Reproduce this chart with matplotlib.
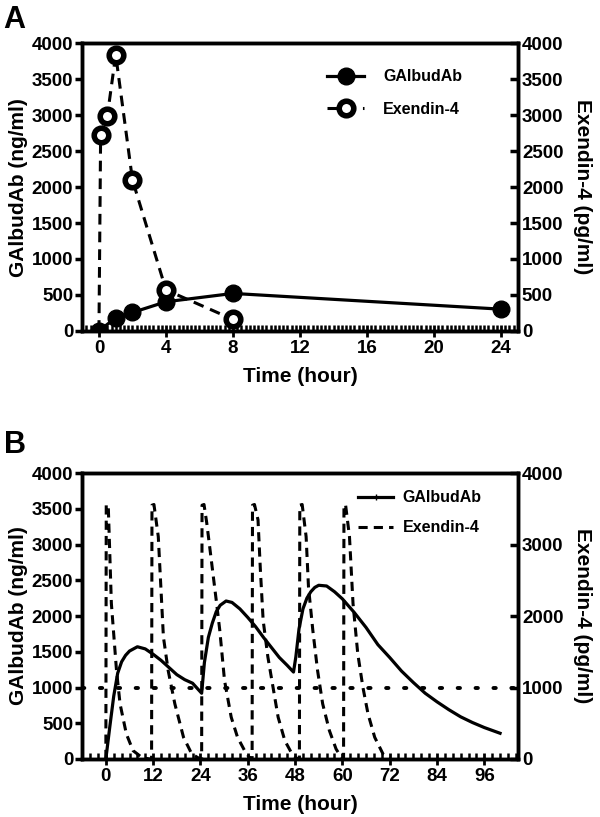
import matplotlib
matplotlib.use("Agg")
import matplotlib.pyplot as plt
from matplotlib.ticker import MultipleLocator
from matplotlib.lines import Line2D

plt.rcParams["font.family"] = ["Liberation Sans", "DejaVu Sans"]
plt.rcParams["font.weight"] = "bold"
plt.rcParams["axes.labelweight"] = "bold"

# Panel A: measured PK
a_time_ab = [0, 1, 2, 4, 8, 24]
a_ab = [0, 181, 256, 405, 521, 302]
a_time_ex = [0, 0.1, 0.5, 1, 2, 4, 8]
a_ex = [0, 2730, 2990, 3840, 2100, 570, 160]
a_xticks = [0, 4, 8, 12, 16, 20, 24]

# Panel B: simulated repeat dosing
b_time_ab = [0, 1, 2, 3, 4, 5, 6, 8, 10, 12, 14, 16, 18, 20, 22, 24.3,
             25, 26, 27, 28, 29, 30.5, 32, 34, 36, 38, 40, 42, 44, 46, 47.6,
             48.2, 49, 50, 51, 52, 53, 54, 56, 58, 60, 63, 66, 69, 72, 75,
             78, 81, 84, 87, 90, 93, 96, 100]
b_ab = [0, 450, 880, 1200, 1360, 1450, 1510, 1570, 1540, 1465, 1380, 1280,
        1180, 1110, 1060, 920, 1350, 1700, 1900, 2060, 2150, 2210, 2190,
        2100, 1980, 1850, 1700, 1560, 1420, 1310, 1216, 1430, 1820, 2100,
        2250, 2340, 2400, 2430, 2420, 2340, 2240, 2050, 1840, 1600, 1420,
        1230, 1070, 920, 800, 690, 590, 510, 440, 360]
b_time_ex = [0, 0.1, 0.6, 1.4, 2.7, 3.6, 5.2, 6.9, 9.1, 11,
             11.6, 11.7, 12.2, 13.3, 14.6, 15.8, 17.5, 19.7, 21.8, 23.9,
             24.3, 24.4, 24.9, 25.6, 28.1, 28.9, 30.1, 31.8, 33.4, 35.2, 36.5, 37.0,
             37.1, 37.2, 37.7, 38.6, 39.2, 39.9, 41.1, 42.4, 43.7, 45.4, 47.0, 48.3, 49.0,
             49.1, 49.2, 49.8, 50.8, 51.4, 52.5, 53.7, 55.0, 56.7, 58.4, 59.7, 60.2,
             60.3, 60.4, 60.8, 61.8, 62.7, 63.9, 65.2, 66.5, 68.2, 70.4, 72]
b_ex = [0, 3550, 3560, 2175, 1240, 772, 351, 117, 23, 0,
        0, 3550, 3560, 3111, 1708, 1240, 772, 304, 70, 0,
        0, 3550, 3560, 3300, 2175, 1800, 1100, 585, 304, 117, 14, 0,
        0, 3550, 3560, 3345, 2643, 1941, 1427, 1006, 585, 257, 94, 14, 0,
        0, 3550, 3560, 3111, 2409, 1801, 1240, 772, 398, 140, 23, 0,
        0, 3550, 3560, 3111, 2175, 1474, 1006, 632, 304, 60, 0]
b_threshold = 1000
b_xticks = [0, 12, 24, 36, 48, 60, 72, 84, 96]

TICK_FS = 13.5
LABEL_FS = 15
DASH = (0, (3.5, 2.3))

fig = plt.figure(figsize=(6.0, 8.17), dpi=100)


def style_axes(ax, ax2, xlim, xticks, minor, rticks):
    ax.set_xlim(*xlim)
    ax.set_ylim(0, 4000)
    ax2.set_ylim(0, 4000)
    ax.set_xticks(xticks)
    ax.xaxis.set_minor_locator(MultipleLocator(minor))
    ax.set_yticks(range(0, 4001, 500))
    ax2.set_yticks(rticks)
    for a in (ax, ax2):
        for s in a.spines.values():
            s.set_linewidth(2.5)
    ax.tick_params(axis="x", which="major", direction="inout", length=9,
                   width=2, labelsize=TICK_FS, pad=2)
    ax.tick_params(axis="x", which="minor", direction="in", length=4,
                   width=1.8)
    ax.tick_params(axis="y", direction="out", length=5, width=2.5,
                   labelsize=TICK_FS, pad=1.5)
    ax2.tick_params(axis="y", direction="in", length=6, width=2.5,
                    labelsize=TICK_FS, pad=3)
    for lab in ax.get_xticklabels() + ax.get_yticklabels() + ax2.get_yticklabels():
        lab.set_fontweight("bold")
    ax.set_xlabel("Time (hour)", fontsize=LABEL_FS, labelpad=7)
    ax.set_ylabel("GAlbudAb (ng/ml)", fontsize=LABEL_FS, labelpad=3)
    ax2.set_ylabel("Exendin-4 (pg/ml)", fontsize=LABEL_FS, rotation=-90,
                   va="bottom", labelpad=7)


# ---- Panel A ----
axA = fig.add_axes([0.137, 0.595, 0.726, 0.352])
axA2 = axA.twinx()
axA.plot(a_time_ab, a_ab, color="black", lw=2.3, marker="o", ms=12,
         mfc="black", mec="black", zorder=3)
axA2.plot(a_time_ex, a_ex, color="black", lw=2.2, ls=DASH,
          marker="o", ms=10.5, mfc="white", mec="black", mew=4,
          markevery=list(range(1, len(a_time_ex))))
style_axes(axA, axA2, (-1, 25), a_xticks, 0.25, range(0, 4001, 500))

legA = [Line2D([], [], color="black", lw=2.3, marker="o", ms=12),
        Line2D([], [], color="black", lw=2.2, ls=DASH, marker="o",
               ms=10.5, mfc="white", mew=4)]
axA2.legend(legA, ["GAlbudAb", "Exendin-4"], loc="upper left",
            bbox_to_anchor=(0.53, 0.96), frameon=False, handlelength=2.3,
            handletextpad=1.2, labelspacing=1.1,
            prop={"weight": "bold", "size": 11.5})

# ---- Panel B ----
axB = fig.add_axes([0.137, 0.071, 0.726, 0.350])
axB2 = axB.twinx()
axB.plot(b_time_ab, b_ab, color="black", lw=2.3)
axB2.plot(b_time_ex, b_ex, color="black", lw=2.2, ls=(0, (3, 2)))
axB.axhline(b_threshold, color="black", lw=2.8, ls=(0, (0.6, 4)),
            dash_capstyle="round")
style_axes(axB, axB2, (-6, 104.5), b_xticks, 2, range(0, 4001, 1000))

legB = [Line2D([], [], color="black", lw=2.3, marker="|", ms=5),
        Line2D([], [], color="black", lw=2.2, ls=(0, (3, 2)))]
axB2.legend(legB, ["GAlbudAb", "Exendin-4"], loc="upper left",
            bbox_to_anchor=(0.6, 0.99), frameon=False, handlelength=2.2,
            handletextpad=0.6, labelspacing=0.95,
            prop={"weight": "bold", "size": 11.5})

fig.text(0.006, 0.976, "A", fontsize=22, fontweight="bold", va="center")
fig.text(0.006, 0.455, "B", fontsize=22, fontweight="bold", va="center")

fig.savefig("out.png", dpi=100)
